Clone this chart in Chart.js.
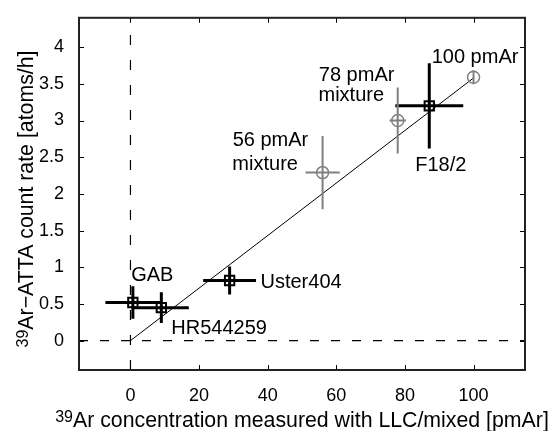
<!DOCTYPE html>
<html><head><meta charset="utf-8">
<script src="https://cdn.jsdelivr.net/npm/chart.js@4.4.0/dist/chart.umd.min.js"></script>
<style>html,body{margin:0;padding:0;background:#fff;}canvas{display:block;}</style>
</head><body>
<canvas id="c" width="551" height="431"></canvas>
<script>
// ---- data ----
const sampleNames = ['GAB', 'HR544259', 'Uster404', 'F18/2'];
const sampleX = [0.7, 9.0, 28.9, 87.1];
const sampleY = [0.52, 0.45, 0.82, 3.20];
const sampleXErr = [8.0, 8.0, 7.7, 9.9];
const sampleYErr = [0.22, 0.21, 0.19, 0.58];

const refNames = ['56 pmAr mixture', '78 pmAr mixture', '100 pmAr'];
const refX = [56.0, 77.9, 100];
const refY = [2.29, 3.00, 3.59];
const refXErr = [5.0, 2.4, 0];
const refYErr = [0.50, 0.45, 0.095];

const fitX = [0, 100];
const fitY = [0, 3.58];

const xTicks = [0, 20, 40, 60, 80, 100];
const xTickLabels = ['0', '20', '40', '60', '80', '100'];
const yTicks = [0, 0.5, 1, 1.5, 2, 2.5, 3, 3.5, 4];
const yTickLabels = ['0', '0.5', '1', '1.5', '2', '2.5', '3', '3.5', '4'];

const xRange = [-15, 115];
const yRange = [-0.4, 4.4];

// text annotations (anchor: left / baseline, data units)
const annotations = [
  {text: '100 pmAr', x: 87.8, y: 3.79},
  {text: '78 pmAr', x: 54.9, y: 3.535},
  {text: 'mixture', x: 54.8, y: 3.27},
  {text: '56 pmAr', x: 29.8, y: 2.65},
  {text: 'mixture', x: 29.7, y: 2.33},
  {text: 'F18/2', x: 83.0, y: 2.31},
  {text: 'GAB', x: 0.2, y: 0.81},
  {text: 'HR544259', x: 11.9, y: 0.094},
  {text: 'Uster404', x: 37.9, y: 0.72}
];

const FONT = "'Liberation Sans', Arial, Helvetica, sans-serif";
Chart.defaults.font.family = FONT;

// ---- datasets ----
const GRAY = '#808080';
const datasets = [];
datasets.push({data: [{x: 0, y: yRange[0]}, {x: 0, y: yRange[1]}], showLine: true, borderColor: '#000', borderWidth: 1.2, borderDash: [10, 15], pointRadius: 0, order: 20});
datasets.push({data: [{x: xRange[0], y: 0}, {x: xRange[1], y: 0}], showLine: true, borderColor: '#000', borderWidth: 1.2, borderDash: [9, 12], pointRadius: 0, order: 20});
datasets.push({data: fitX.map((v, i) => ({x: v, y: fitY[i]})), showLine: true, borderColor: '#000', borderWidth: 1, pointRadius: 0, order: 15});

function addErrorBars(xs, ys, xe, ye, color, width) {
  xs.forEach((x, i) => {
    if (xe[i] > 0) datasets.push({data: [{x: x - xe[i], y: ys[i]}, {x: x + xe[i], y: ys[i]}], showLine: true, borderColor: color, borderWidth: width, pointRadius: 0, order: 5});
    if (ye[i] > 0) datasets.push({data: [{x: x, y: ys[i] - ye[i]}, {x: x, y: ys[i] + ye[i]}], showLine: true, borderColor: color, borderWidth: width, pointRadius: 0, order: 5});
  });
}
addErrorBars(refX, refY, refXErr, refYErr, GRAY, 2);
addErrorBars(sampleX, sampleY, sampleXErr, sampleYErr, '#000', 3);

datasets.push({data: refX.map((v, i) => ({x: v, y: refY[i]})), pointStyle: 'circle', pointRadius: 6, borderWidth: 1.5, borderColor: GRAY, backgroundColor: 'rgba(0,0,0,0)', order: 1});
datasets.push({data: sampleX.map((v, i) => ({x: v, y: sampleY[i]})), pointStyle: 'rect', pointRadius: 6.6, borderWidth: 2, borderColor: '#000', backgroundColor: 'rgba(0,0,0,0)', order: 0});

// ---- decorations plugin ----
function drawSupTitle(ctx, sup, main, supSize, mainSize, supRise) {
  ctx.font = supSize + 'px ' + FONT;
  const w1 = ctx.measureText(sup).width;
  ctx.font = mainSize + 'px ' + FONT;
  const w2 = ctx.measureText(main).width;
  const start = -(w1 + w2) / 2;
  ctx.textAlign = 'left';
  ctx.textBaseline = 'alphabetic';
  ctx.font = supSize + 'px ' + FONT;
  ctx.fillText(sup, start, -supRise);
  ctx.font = mainSize + 'px ' + FONT;
  ctx.fillText(main, start + w1, 0);
}

const decor = {
  id: 'decor',
  afterDatasetsDraw(chart) {
    const ctx = chart.ctx;
    const xs = chart.scales.x, ys = chart.scales.y;
    ctx.save();
    ctx.fillStyle = '#000';
    ctx.font = '20px ' + FONT;
    ctx.textAlign = 'left';
    ctx.textBaseline = 'alphabetic';
    annotations.forEach(a => {
      ctx.fillText(a.text, xs.getPixelForValue(a.x), ys.getPixelForValue(a.y));
    });
    ctx.restore();
  },
  afterDraw(chart) {
    const ctx = chart.ctx;
    const {left, right, top, bottom} = chart.chartArea;
    const xs = chart.scales.x, ys = chart.scales.y;
    ctx.save();
    // inward ticks
    ctx.strokeStyle = '#000';
    ctx.lineWidth = 1;
    const tl = 5;
    ctx.beginPath();
    xTicks.forEach(v => {
      const px = Math.round(xs.getPixelForValue(v)) + 0.5;
      ctx.moveTo(px, bottom); ctx.lineTo(px, bottom - tl);
      ctx.moveTo(px, top); ctx.lineTo(px, top + tl);
    });
    yTicks.forEach(v => {
      const py = Math.round(ys.getPixelForValue(v)) + 0.5;
      ctx.moveTo(left, py); ctx.lineTo(left + tl, py);
      ctx.moveTo(right, py); ctx.lineTo(right - tl, py);
    });
    ctx.stroke();
    // box
    ctx.strokeStyle = '#222';
    ctx.lineWidth = 2;
    ctx.strokeRect(left, top, right - left, bottom - top);
    // titles
    ctx.fillStyle = '#000';
    ctx.save();
    ctx.translate((left + right) / 2, 426.5);
    drawSupTitle(ctx, '39', 'Ar concentration measured with LLC/mixed [pmAr]', 16, 21.3, 5);
    ctx.restore();
    ctx.save();
    ctx.translate(33, 199);
    ctx.rotate(-Math.PI / 2);
    drawSupTitle(ctx, '39', 'Ar\u2212ATTA count rate [atoms/h]', 16, 21.3, 5);
    ctx.restore();
    ctx.restore();
  }
};

new Chart(document.getElementById('c'), {
  type: 'scatter',
  data: {datasets},
  options: {
    responsive: false,
    animation: false,
    events: [],
    layout: {padding: {top: 13, right: 26, left: 0, bottom: 0}},
    plugins: {legend: {display: false}, tooltip: {enabled: false}},
    scales: {
      x: {
        type: 'linear', min: xRange[0], max: xRange[1],
        grid: {display: false}, border: {display: false},
        afterBuildTicks: s => { s.ticks = xTicks.map(v => ({value: v})); },
        afterFit: s => { s.height = 61; },
        ticks: {font: {size: 18}, color: '#000', padding: 7, maxRotation: 0, autoSkip: false,
                callback: v => xTickLabels[xTicks.indexOf(v)]}
      },
      y: {
        type: 'linear', min: yRange[0], max: yRange[1],
        grid: {display: false}, border: {display: false},
        afterBuildTicks: s => { s.ticks = yTicks.map(v => ({value: v})); },
        afterFit: s => { s.width = 79; },
        ticks: {font: {size: 18}, color: '#000', padding: 7, autoSkip: false,
                callback: v => yTickLabels[yTicks.indexOf(v)]}
      }
    }
  },
  plugins: [decor]
});
</script>
</body></html>
